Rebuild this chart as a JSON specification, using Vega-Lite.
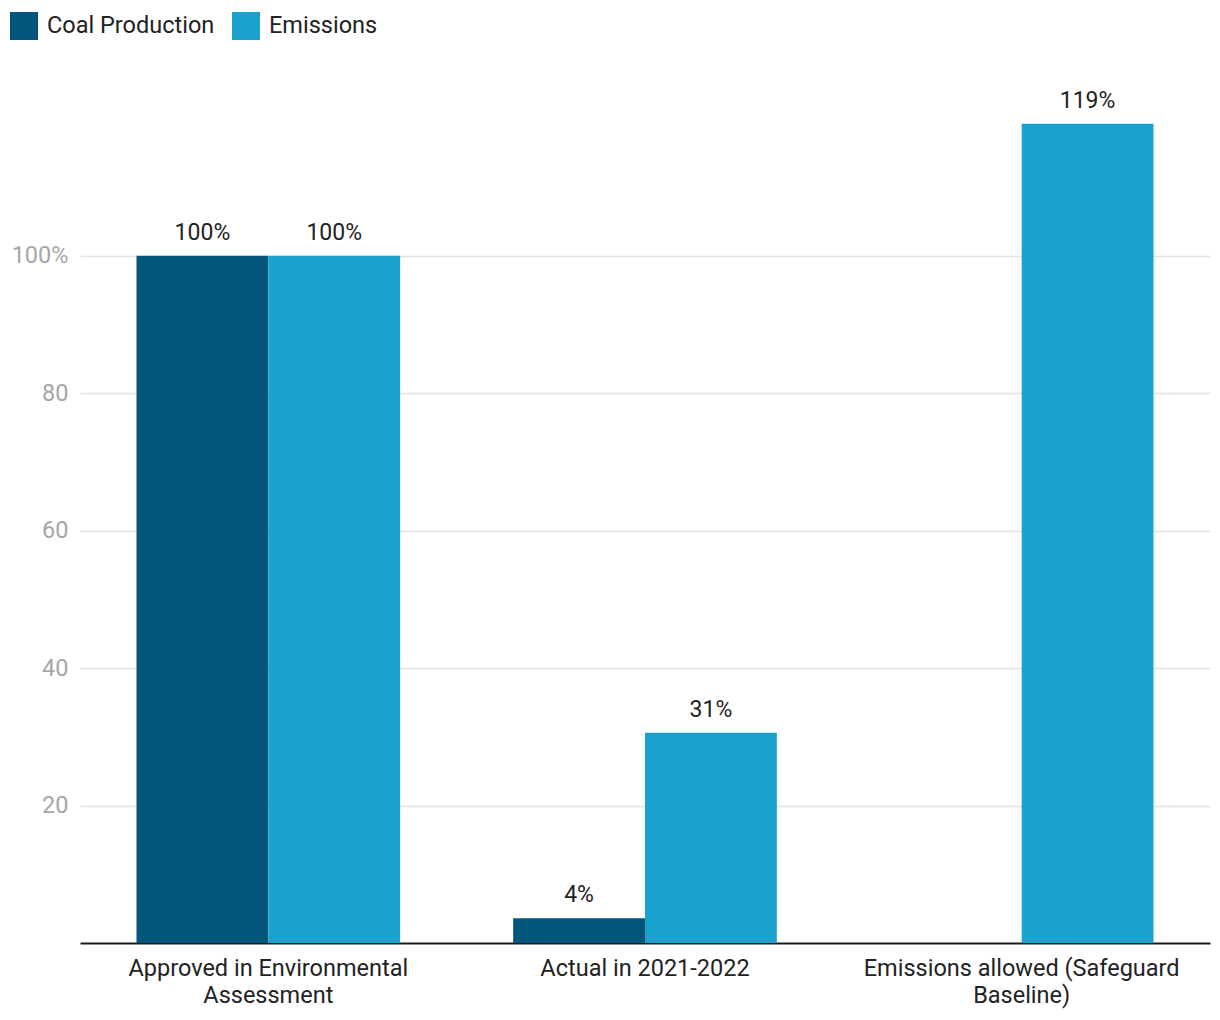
{
  "$schema": "https://vega.github.io/schema/vega-lite/v6.json",
  "width": 1130,
  "height": 859,
  "autosize": {"type": "none"},
  "padding": {"left": 80, "top": 84, "right": 10, "bottom": 77},
  "background": "white",
  "config": {
    "font": "Roboto",
    "view": {"stroke": null}
  },
  "data": {
    "values": [
      {"category": "Approved in Environmental Assessment", "series": "Coal Production", "value": 100, "label": "100%"},
      {"category": "Approved in Environmental Assessment", "series": "Emissions", "value": 100, "label": "100%"},
      {"category": "Actual in 2021-2022", "series": "Coal Production", "value": 3.6, "label": "4%"},
      {"category": "Actual in 2021-2022", "series": "Emissions", "value": 30.6, "label": "31%"},
      {"category": "Emissions allowed (Safeguard Baseline)", "series": "Emissions", "value": 119.2, "label": "119%"}
    ]
  },
  "encoding": {
    "x": {
      "field": "category",
      "type": "nominal",
      "sort": ["Approved in Environmental Assessment", "Actual in 2021-2022", "Emissions allowed (Safeguard Baseline)"],
      "scale": {"paddingInner": 0.3, "paddingOuter": 0.15},
      "axis": {
        "title": null,
        "labelAngle": 0,
        "labelFont": "Roboto",
        "labelFontSize": 23.5,
        "labelColor": "#222222",
        "labelPadding": 13,
        "labelLineHeight": 27,
        "labelBaseline": "top",
        "labelLimit": 0,
        "ticks": false,
        "domainColor": "#1a1a1a",
        "domainWidth": 2,
        "labelExpr": "datum.value == 'Approved in Environmental Assessment' ? ['Approved in Environmental', 'Assessment'] : datum.value == 'Emissions allowed (Safeguard Baseline)' ? ['Emissions allowed (Safeguard', 'Baseline)'] : datum.value"
      }
    },
    "xOffset": {
      "field": "series",
      "type": "nominal",
      "sort": ["Coal Production", "Emissions"],
      "scale": {"domain": ["Coal Production", "Emissions"], "paddingInner": 0, "paddingOuter": 0}
    },
    "y": {
      "field": "value",
      "type": "quantitative",
      "scale": {"domain": [0, 125], "nice": false},
      "axis": {
        "title": null,
        "values": [20, 40, 60, 80, 100],
        "labelExpr": "datum.value == 100 ? '100%' : datum.label",
        "labelFont": "Roboto",
        "labelFontSize": 23.5,
        "labelColor": "#a6a6a6",
        "labelPadding": 12,
        "ticks": false,
        "domain": false,
        "gridColor": "#e2e2e2",
        "gridWidth": 1.5
      }
    }
  },
  "layer": [
    {
      "mark": {"type": "bar"},
      "encoding": {
        "color": {
          "field": "series",
          "type": "nominal",
          "scale": {"domain": ["Coal Production", "Emissions"], "range": ["#02557b", "#1aa1cd"]},
          "legend": {
            "title": null,
            "orient": "none",
            "legendX": -70,
            "legendY": -72,
            "direction": "horizontal",
            "symbolType": "square",
            "symbolSize": 784,
            "symbolStrokeWidth": 0,
            "symbolOpacity": 1,
            "labelFont": "Roboto",
            "labelFontSize": 23.5,
            "labelColor": "#222222",
            "labelOffset": 9,
            "labelLimit": 0,
            "columnPadding": 17,
            "padding": 0
          }
        }
      }
    },
    {
      "mark": {"type": "text", "baseline": "bottom", "dy": -11, "fontSize": 23, "font": "Roboto", "color": "#222222"},
      "encoding": {
        "text": {"field": "label"}
      }
    }
  ]
}
